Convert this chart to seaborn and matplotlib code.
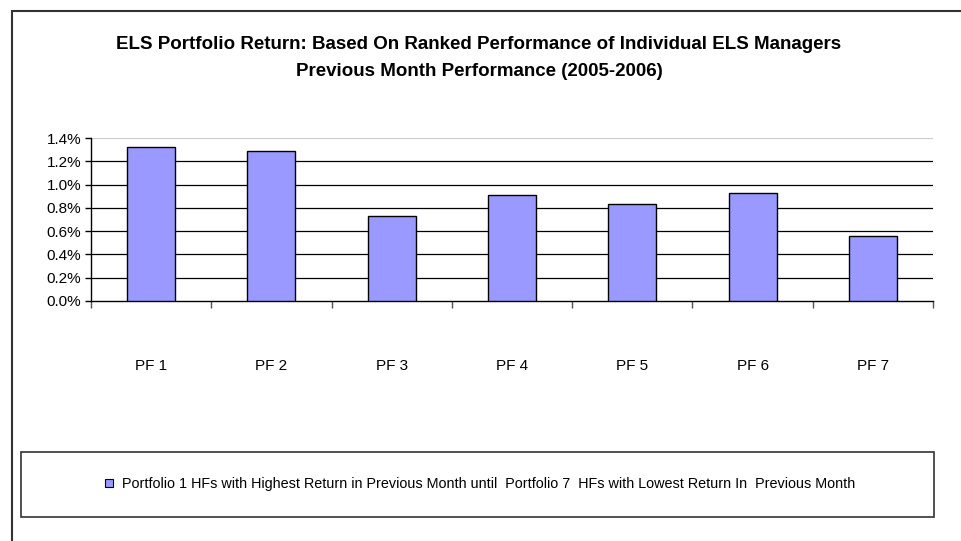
import matplotlib
matplotlib.use("Agg")
import matplotlib.pyplot as plt
import seaborn as sns
import pandas as pd
from matplotlib.patches import Rectangle
from matplotlib.ticker import PercentFormatter, FixedLocator

# values (monthly return, as fraction)
portfolios = ["PF 1", "PF 2", "PF 3", "PF 4", "PF 5", "PF 6", "PF 7"]
returns = [0.0132, 0.0129, 0.0073, 0.0091, 0.0083, 0.0093, 0.0056]
y_ticks = [0.0, 0.002, 0.004, 0.006, 0.008, 0.010, 0.012, 0.014]

title = ("ELS Portfolio Return: Based On Ranked Performance of Individual ELS Managers\n"
         "Previous Month Performance (2005-2006)")
legend_label = ("Portfolio 1 HFs with Highest Return in Previous Month until  "
                "Portfolio 7  HFs with Lowest Return In  Previous Month")

df = pd.DataFrame({"pf": portfolios, "ret": returns})

sns.set_style("white")
plt.rcParams["font.family"] = ["Liberation Sans", "DejaVu Sans"]
plt.rcParams["text.color"] = "black"
plt.rcParams["xtick.color"] = "black"
plt.rcParams["ytick.color"] = "black"

W, H = 961, 541
fig = plt.figure(figsize=(W / 100, H / 100), dpi=100)

# outer chart frame (runs off the right/bottom of the image)
fig.patches.append(Rectangle((12 / W, -0.1), 1.2, 1 - 11 / H + 0.1, transform=fig.transFigure,
                             fill=False, edgecolor="#333333", linewidth=1.5))

fig.text(479 / W, 1 - 58 / H, title, ha="center", va="center", fontsize=13.5,
         fontweight="bold", linespacing=1.75)

ax = fig.add_axes([91 / W, 1 - 301 / H, 842 / W, 163 / H])
sns.barplot(data=df, x="pf", y="ret", color="#9999FF", edgecolor="black",
            linewidth=1, width=0.4, saturation=1, ax=ax, zorder=3)

ax.set_xlim(-0.5, len(portfolios) - 0.5)
ax.set_ylim(0, 0.014)
ax.yaxis.set_major_locator(FixedLocator(y_ticks))
ax.yaxis.set_major_formatter(PercentFormatter(xmax=1, decimals=1))
for y in y_ticks[1:]:
    ax.axhline(y, color="#cccccc" if y == y_ticks[-1] else "black", linewidth=0.9, zorder=1)

ax.set_xlabel("")
ax.set_ylabel("")
for s in ["top", "right"]:
    ax.spines[s].set_visible(False)
ax.spines["left"].set_color("black")
ax.spines["bottom"].set_color("black")
ax.spines["left"].set_linewidth(1)
ax.spines["bottom"].set_linewidth(1)

ax.tick_params(axis="y", which="major", left=True, length=4, width=1, color="black",
               labelsize=11, pad=3)
ax.tick_params(axis="x", which="major", length=0, labelsize=11, pad=42)
ax.set_xticks([i - 0.5 for i in range(len(portfolios) + 1)], minor=True)
ax.tick_params(axis="x", which="minor", bottom=True, length=5, width=1, color="#555555")

# legend box
fig.patches.append(Rectangle((21 / W, 1 - 517 / H), 913 / W, 65 / H, transform=fig.transFigure,
                             fill=False, edgecolor="#333333", linewidth=1.2))
handles = [Rectangle((0, 0), 1, 1, facecolor="#9999FF", edgecolor="black", linewidth=0.8)]
fig.legend(handles, [legend_label], loc="center", bbox_to_anchor=(480 / W, 1 - 484 / H),
           frameon=False, fontsize=10.4, handlelength=0.55, handleheight=0.55, handletextpad=0.6)

fig.savefig("out.png", dpi=100)
